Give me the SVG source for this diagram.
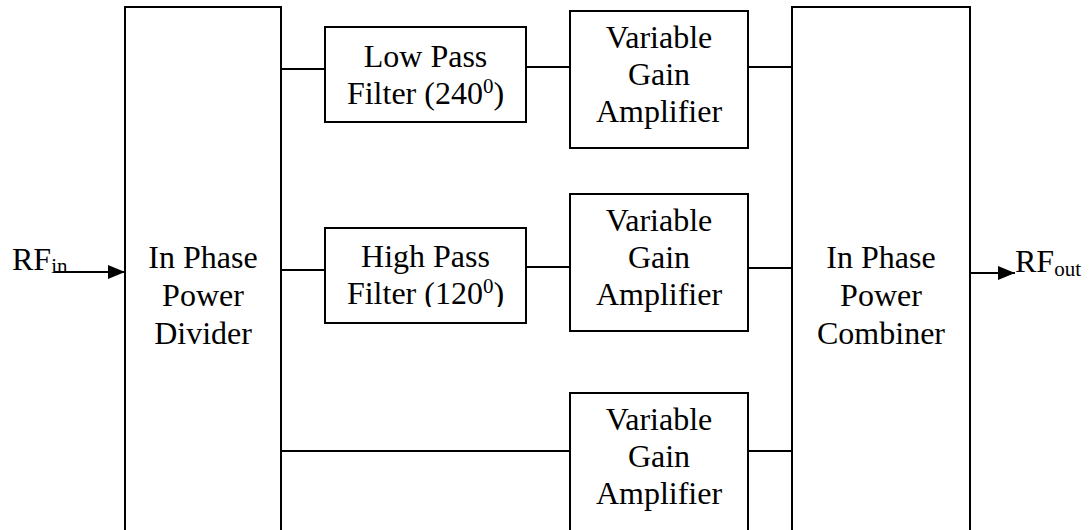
<svg xmlns="http://www.w3.org/2000/svg" width="1091" height="530" viewBox="0 0 1091 530">
  <style>
    .box { fill: #fff; stroke: #000; stroke-width: 2; }
    .wire { stroke: #000; stroke-width: 2; fill: none; }
    text { font-family: "Liberation Serif", "Times New Roman", serif; font-size: 32px; fill: #000; text-anchor: middle; }
    .lbl { text-anchor: start; }
    .small { font-size: 21px; }
  </style>
  <defs>
    <marker id="arrow" markerWidth="18" markerHeight="16" refX="17" refY="8" orient="auto" markerUnits="userSpaceOnUse">
      <path d="M0,1 L17,8 L0,15 Z" fill="#000"/>
    </marker>
    <!-- the high-pass label frame trims the bottom of its second line -->
    <clipPath id="hpfClip"><rect x="325" y="228" width="201" height="79"/></clipPath>
  </defs>

  <rect width="1091" height="530" fill="#fff"/>

  <!-- port labels -->
  <g id="rf-in">
    <text class="lbl" x="12" y="270">RF<tspan class="small" dy="3">in</tspan></text>
  </g>
  <g id="rf-out">
    <text class="lbl" x="1015" y="272">RF<tspan class="small" dy="4">out</tspan></text>
  </g>

  <!-- splitter -->
  <g id="divider">
    <rect class="box" x="125" y="7" width="156" height="540"/>
    <text x="203" y="268">In Phase</text>
    <text x="203" y="306">Power</text>
    <text x="203" y="344">Divider</text>
  </g>

  <!-- filters -->
  <g id="lpf">
    <rect class="box" x="325" y="27" width="201" height="95"/>
    <text x="425.5" y="67">Low Pass</text>
    <text x="425.5" y="104">Filter (240<tspan class="small" dy="-11">0</tspan><tspan dy="11">)</tspan></text>
  </g>
  <g id="hpf">
    <rect class="box" x="325" y="228" width="201" height="95"/>
    <g clip-path="url(#hpfClip)">
      <text x="425.5" y="267">High Pass</text>
      <text x="425.5" y="304">Filter (120<tspan class="small" dy="-11">0</tspan><tspan dy="11">)</tspan></text>
    </g>
  </g>

  <!-- amplifiers -->
  <g id="vga1">
    <rect class="box" x="570" y="11" width="178" height="137"/>
    <text x="659" y="48">Variable</text>
    <text x="659" y="85">Gain</text>
    <text x="659" y="122">Amplifier</text>
  </g>
  <g id="vga2">
    <rect class="box" x="570" y="194" width="178" height="137"/>
    <text x="659" y="231">Variable</text>
    <text x="659" y="268">Gain</text>
    <text x="659" y="305">Amplifier</text>
  </g>
  <g id="vga3">
    <rect class="box" x="570" y="393" width="178" height="150"/>
    <text x="659" y="430">Variable</text>
    <text x="659" y="467">Gain</text>
    <text x="659" y="504">Amplifier</text>
  </g>

  <!-- combiner -->
  <g id="combiner">
    <rect class="box" x="792" y="7" width="178" height="540"/>
    <text x="881" y="268">In Phase</text>
    <text x="881" y="306">Power</text>
    <text x="881" y="344">Combiner</text>
  </g>

  <!-- connectors -->
  <g id="connectors">
    <line class="wire" x1="55" y1="272" x2="125" y2="272" marker-end="url(#arrow)"/>
    <line class="wire" x1="281" y1="69" x2="325" y2="69"/>
    <line class="wire" x1="526" y1="67" x2="570" y2="67"/>
    <line class="wire" x1="748" y1="67" x2="792" y2="67"/>
    <line class="wire" x1="281" y1="270" x2="325" y2="270"/>
    <line class="wire" x1="526" y1="267" x2="570" y2="267"/>
    <line class="wire" x1="748" y1="268" x2="792" y2="268"/>
    <line class="wire" x1="281" y1="451" x2="570" y2="451"/>
    <line class="wire" x1="748" y1="451" x2="792" y2="451"/>
    <line class="wire" x1="970" y1="273" x2="1015" y2="273" marker-end="url(#arrow)"/>
  </g>
</svg>
